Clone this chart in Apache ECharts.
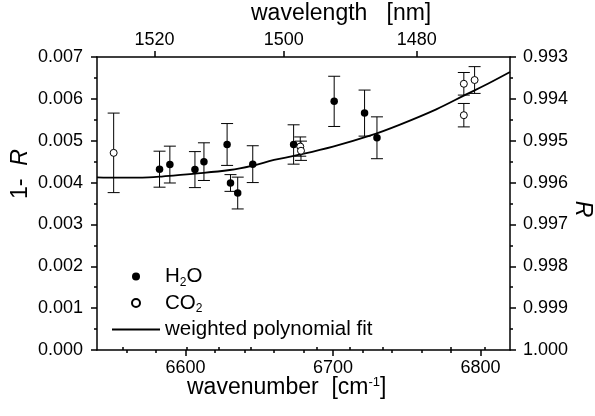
<!DOCTYPE html>
<html>
<head>
<meta charset="utf-8">
<script src="https://cdn.jsdelivr.net/npm/echarts@6/dist/echarts.min.js"></script>
<style>
html,body{margin:0;padding:0;background:#fff;}
#chart{width:595px;height:416px;}
</style>
</head>
<body>
<div id="chart"></div>
<script>
// ---- data ----
const h2oX   = [6582.4, 6589.4, 6606.4, 6612.5, 6628.2, 6630.5, 6635.4, 6645.6, 6673.3, 6700.8, 6721.4, 6729.8];
const h2oY   = [0.00432, 0.00443, 0.00431, 0.00450, 0.00491, 0.00399, 0.00375, 0.00444, 0.00491, 0.00594, 0.00566, 0.00507];
const h2oErr = [0.00043, 0.00044, 0.00043, 0.00045, 0.00050, 0.00020, 0.00038, 0.00044, 0.00047, 0.00060, 0.00055, 0.00050];

const co2X   = [6551.3, 6677.8, 6678.3, 6788.7, 6788.7, 6796.0];
const co2Y   = [0.00471, 0.00486, 0.00476, 0.00636, 0.00561, 0.00645];
const co2Err = [0.00095, 0.00023, 0.00023, 0.00027, 0.00028, 0.00032];

const fitX = [6540, 6555, 6575, 6585, 6605, 6630, 6645, 6660, 6675, 6700, 6725, 6745, 6770, 6790, 6805, 6820];
const fitY = [0.004126, 0.004118, 0.004126, 0.00415, 0.00421, 0.00430, 0.00440, 0.00454, 0.00465, 0.00486, 0.00512, 0.00538, 0.00575, 0.00610, 0.00636, 0.00664];

const wnMajor = [6600, 6700, 6800];
const wnMinor = [6560, 6580, 6620, 6640, 6660, 6680, 6720, 6740, 6760, 6780];
const nmMajor = [1520, 1500, 1480];
const nmMinor = [1525, 1515, 1510, 1505, 1495, 1490, 1485, 1475, 1470];

const seriesNames = ['H2O', 'CO2', 'weighted polynomial fit'];
// --------------------------------------

const FONT = '"Liberation Sans", Arial, sans-serif';
const TICK_FS = 18;
const TITLE_FS = 23;
const X_MIN = 6540, X_MAX = 6820;

const zip3 = (xs, ys, es) => xs.map((x, i) => [x, ys[i] - es[i], ys[i] + es[i]]);
const zip2 = (xs, ys) => xs.map((x, i) => [x, ys[i]]);

function renderErr(params, api) {
  const x = api.value(0), lo = api.value(1), hi = api.value(2);
  const a = api.coord([x, lo]), b = api.coord([x, hi]);
  const hw = 6;
  const st = { stroke: '#000', lineWidth: 1 };
  return { type: 'group', children: [
    { type: 'line', shape: { x1: a[0], y1: a[1], x2: b[0], y2: b[1] }, style: st },
    { type: 'line', shape: { x1: a[0] - hw, y1: a[1], x2: a[0] + hw, y2: a[1] }, style: st },
    { type: 'line', shape: { x1: b[0] - hw, y1: b[1], x2: b[0] + hw, y2: b[1] }, style: st }
  ]};
}

const axisLine = { show: true, onZero: false, lineStyle: { color: '#000', width: 1.5 } };
const labelBase = { color: '#000', fontSize: TICK_FS, fontFamily: FONT };

const chart = echarts.init(document.getElementById('chart'), null, { renderer: 'canvas' });
chart.setOption({
  animation: false,
  backgroundColor: '#fff',
  grid: { left: 97, right: 85, top: 57, bottom: 66, containLabel: false },
  xAxis: [
    { type: 'value', position: 'bottom', min: X_MIN, max: X_MAX, axisLine,
      axisTick: { show: true, customValues: wnMajor, length: 6, lineStyle: { color: '#000', width: 1.5 } },
      axisLabel: Object.assign({ customValues: wnMajor, margin: 9, formatter: v => String(Math.round(v)) }, labelBase),
      splitLine: { show: false } },
    { type: 'value', position: 'bottom', min: X_MIN, max: X_MAX, axisLine: { show: false },
      axisTick: { show: true, customValues: wnMinor, length: 3, lineStyle: { color: '#000', width: 1.5 } },
      axisLabel: { show: false }, splitLine: { show: false } },
    { type: 'value', position: 'top', min: X_MIN, max: X_MAX, axisLine,
      axisTick: { show: true, customValues: nmMajor.map(v => 1e7 / v), length: 6, lineStyle: { color: '#000', width: 1.5 } },
      axisLabel: Object.assign({ customValues: nmMajor.map(v => 1e7 / v), margin: 8,
        formatter: v => String(Math.round(1e7 / v)) }, labelBase),
      splitLine: { show: false } },
    { type: 'value', position: 'top', min: X_MIN, max: X_MAX, axisLine: { show: false },
      axisTick: { show: true, customValues: nmMinor.map(v => 1e7 / v), length: 3, lineStyle: { color: '#000', width: 1.5 } },
      axisLabel: { show: false }, splitLine: { show: false } }
  ],
  yAxis: [
    { type: 'value', position: 'left', min: 0, max: 0.007, interval: 0.001, axisLine,
      axisTick: { show: true, length: 6, lineStyle: { color: '#000', width: 1.5 } },
      minorTick: { show: true, splitNumber: 2, length: 3, lineStyle: { color: '#000', width: 1.5 } },
      axisLabel: Object.assign({ margin: 14, formatter: v => v.toFixed(3) }, labelBase),
      splitLine: { show: false }, minorSplitLine: { show: false } },
    { type: 'value', position: 'right', min: 0, max: 0.007, interval: 0.001, axisLine,
      axisTick: { show: true, length: 6, lineStyle: { color: '#000', width: 1.5 } },
      minorTick: { show: true, splitNumber: 2, length: 3, lineStyle: { color: '#000', width: 1.5 } },
      axisLabel: Object.assign({ margin: 13, formatter: v => (1 - v).toFixed(3) }, labelBase),
      splitLine: { show: false }, minorSplitLine: { show: false } }
  ],
  legend: {
    orient: 'vertical', left: 111, top: 266, padding: 0, itemWidth: 48, itemHeight: 8, itemGap: 4,
    data: [
      { name: seriesNames[0], icon: 'circle' },
      { name: seriesNames[1], icon: 'circle' },
      { name: seriesNames[2], itemStyle: { opacity: 0, color: 'rgba(0,0,0,0)', borderWidth: 0 } }
    ],
    formatter: n => n === 'H2O' ? 'H{sub|2}O' : (n === 'CO2' ? 'CO{sub|2}' : n),
    textStyle: { color: '#000', fontSize: 20.5, fontFamily: FONT,
      rich: { sub: { fontSize: 12, fontFamily: FONT, color: '#000', verticalAlign: 'bottom', padding: [12, 0, 0, 0] } } },
    selectedMode: false
  },
  series: [
    { type: 'custom', name: 'errH2O', xAxisIndex: 0, yAxisIndex: 0, renderItem: renderErr,
      encode: { x: 0, y: [1, 2] }, data: zip3(h2oX, h2oY, h2oErr), z: 2 },
    { type: 'custom', name: 'errCO2', xAxisIndex: 0, yAxisIndex: 0, renderItem: renderErr,
      encode: { x: 0, y: [1, 2] }, data: zip3(co2X, co2Y, co2Err), z: 2 },
    { type: 'line', name: seriesNames[2], xAxisIndex: 0, yAxisIndex: 0, data: zip2(fitX, fitY),
      smooth: 0.4, symbol: 'none', lineStyle: { color: '#000', width: 1.8 }, itemStyle: { color: '#000' }, z: 3 },
    { type: 'scatter', name: seriesNames[0], xAxisIndex: 0, yAxisIndex: 0, data: zip2(h2oX, h2oY),
      symbol: 'circle', symbolSize: 7.5, itemStyle: { color: '#000', opacity: 1 }, z: 4 },
    { type: 'scatter', name: seriesNames[1], xAxisIndex: 0, yAxisIndex: 0, data: zip2(co2X, co2Y),
      symbol: 'circle', symbolSize: 7, itemStyle: { color: '#fff', borderColor: '#000', borderWidth: 1, opacity: 1 }, z: 4 }
  ],
  graphic: [
    { type: 'text', left: 187, top: 376,
      style: { text: 'wavenumber  [cm{sup|-1}]', fill: '#000', fontSize: TITLE_FS, fontFamily: FONT,
        rich: { sup: { fontSize: 13, fontFamily: FONT, fill: '#000', verticalAlign: 'top', padding: [0, 0, 10, 0] } } } },
    { type: 'text', left: 251, top: 2,
      style: { text: 'wavelength   [nm]', fill: '#000', fontSize: TITLE_FS, fontFamily: FONT } },
    { type: 'text', x: 21, y: 174, rotation: Math.PI / 2,
      style: { text: '1-  {i|R}', fill: '#000', fontSize: TITLE_FS, fontFamily: FONT, align: 'center', verticalAlign: 'middle',
        rich: { i: { fontStyle: 'italic', fontSize: TITLE_FS, fontFamily: FONT, fill: '#000' } } } },
    { type: 'text', x: 582, y: 209, rotation: -Math.PI / 2,
      style: { text: 'R', fill: '#000', fontSize: TITLE_FS, fontStyle: 'italic', fontFamily: FONT, align: 'center', verticalAlign: 'middle' } }
  ]
});
</script>
</body>
</html>
